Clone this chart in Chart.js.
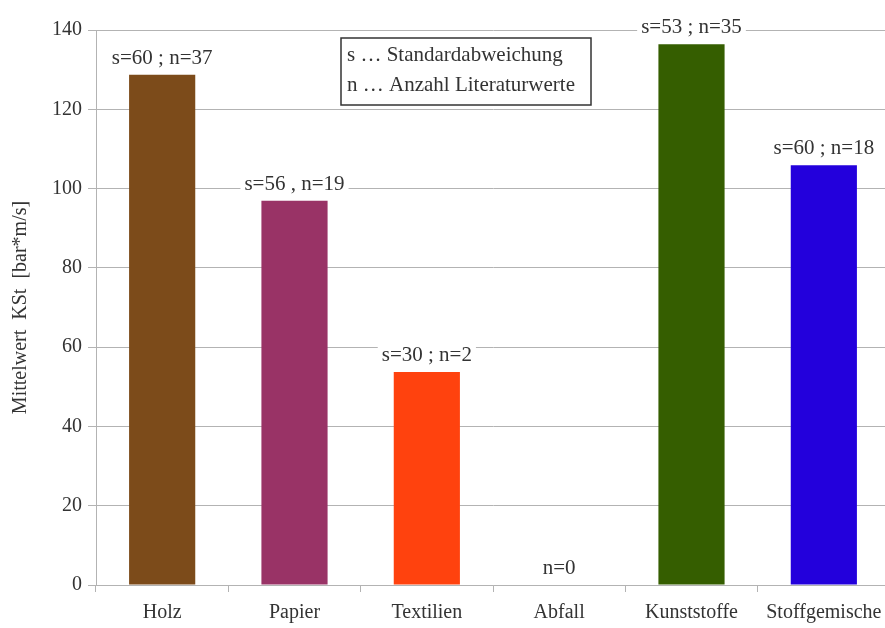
<!DOCTYPE html>
<html>
<head>
<meta charset="utf-8">
<script src="https://cdn.jsdelivr.net/npm/chart.js@4"></script>
<style>
  html, body { margin: 0; padding: 0; background: #fff; overflow: hidden; }
  #wrap { width: 892px; height: 628px; }
</style>
</head>
<body>
<div id="wrap"><canvas id="chart"></canvas></div>
<script>
const categories = ['Holz', 'Papier', 'Textilien', 'Abfall', 'Kunststoffe', 'Stoffgemische'];
const meanKSt = [128.7, 96.9, 53.7, 0, 136.4, 105.9];
const barLabels = ['s=60 ; n=37', 's=56 , n=19', 's=30 ; n=2', 'n=0', 's=53 ; n=35', 's=60 ; n=18'];
const barColors = ['#7c4b1a', '#993366', '#ff420e', '#ffffff', '#355e00', '#2300dc'];
const legendLines = ['s \u2026 Standardabweichung', 'n \u2026 Anzahl Literaturwerte'];

const serif = '"Liberation Serif", "DejaVu Serif", serif';
const textColor = '#333333';
const gridColor = '#b3b3b3';

// value labels above the bars, on a white patch so the grid line breaks
const barLabelPlugin = {
  id: 'barLabels',
  afterDatasetsDraw(chart) {
    const ctx = chart.ctx;
    const meta = chart.getDatasetMeta(0);
    ctx.save();
    ctx.font = '21px ' + serif;
    ctx.textAlign = 'center';
    ctx.textBaseline = 'alphabetic';
    meta.data.forEach((bar, i) => {
      const txt = barLabels[i];
      const w = ctx.measureText(txt).width;
      const base = bar.y - 11;
      ctx.fillStyle = '#ffffff';
      ctx.fillRect(bar.x - w / 2 - 4, base - 17, w + 8, 22);
      ctx.fillStyle = textColor;
      ctx.fillText(txt, bar.x, base);
    });
    ctx.restore();
  }
};

// explanation box in the upper middle
const noteBoxPlugin = {
  id: 'noteBox',
  afterDraw(chart) {
    const ctx = chart.ctx;
    const x = 341, y = 38, w = 250, h = 67;
    ctx.save();
    ctx.fillStyle = '#ffffff';
    ctx.fillRect(x, y, w, h);
    ctx.strokeStyle = '#333333';
    ctx.lineWidth = 1.5;
    ctx.strokeRect(x, y, w, h);
    ctx.font = '21px ' + serif;
    ctx.fillStyle = textColor;
    ctx.textAlign = 'left';
    ctx.fillText(legendLines[0], x + 6, y + 23);
    ctx.fillText(legendLines[1], x + 6, y + 53);
    ctx.restore();
  }
};

new Chart(document.getElementById('chart'), {
  type: 'bar',
  data: {
    labels: categories,
    datasets: [{
      data: meanKSt,
      backgroundColor: barColors,
      borderWidth: 0,
      categoryPercentage: 1,
      barPercentage: 0.5,
    }],
  },
  options: {
    responsive: true,
    maintainAspectRatio: false,
    animation: false,
    layout: { padding: { top: 30, right: 2, left: 0, bottom: 0 } },
    plugins: {
      legend: { display: false },
      tooltip: { enabled: false },
    },
    scales: {
      x: {
        offset: true,
        grid: {
          offset: true,
          drawOnChartArea: false,
          color: gridColor,
          tickLength: 7,
        },
        border: { color: gridColor },
        ticks: {
          color: textColor,
          font: { family: serif, size: 20 },
          padding: 9,
          maxRotation: 0,
        },
        afterFit(scale) { scale.height = 43; },
      },
      y: {
        min: 0,
        max: 140,
        ticks: {
          stepSize: 20,
          color: textColor,
          font: { family: serif, size: 20 },
          padding: 6,
        },
        grid: { color: gridColor, tickLength: 8 },
        border: { color: gridColor },
        title: {
          display: true,
          text: 'Mittelwert  KSt  [bar*m/s]',
          color: textColor,
          font: { family: serif, size: 20 },
          padding: { top: 9, bottom: 0 },
        },
        afterFit(scale) { scale.width = 96; },
      },
    },
  },
  plugins: [barLabelPlugin, noteBoxPlugin],
});
</script>
</body>
</html>
